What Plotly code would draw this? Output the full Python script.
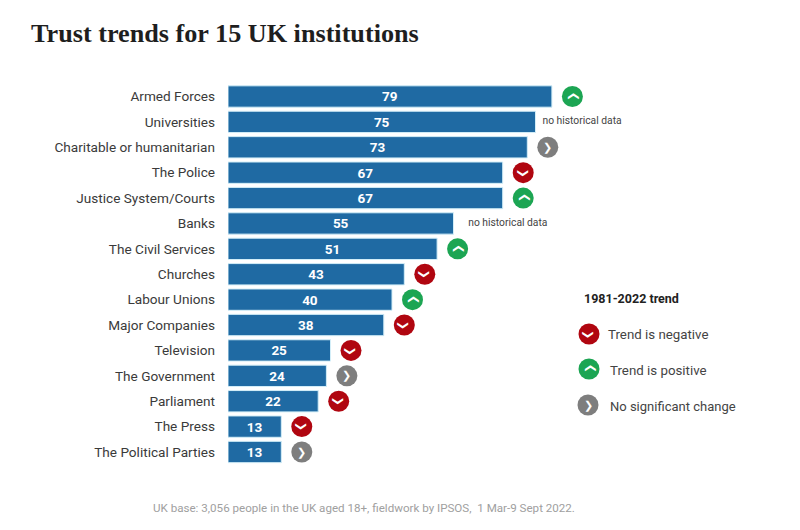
import plotly.graph_objects as go

categories = ["Armed Forces", "Universities", "Charitable or humanitarian", "The Police",
              "Justice System/Courts", "Banks", "The Civil Services", "Churches", "Labour Unions",
              "Major Companies", "Television", "The Government", "Parliament", "The Press",
              "The Political Parties"]
values = [79, 75, 73, 67, 67, 55, 51, 43, 40, 38, 25, 24, 22, 13, 13]
trends = ["up", None, "flat", "down", "up", None, "up", "down", "up", "down", "down", "flat", "down", "down", "flat"]

legend_title = "1981-2022 trend"
legend_labels = ["Trend is negative", "Trend is positive", "No significant change"]
legend_trends = ["down", "up", "flat"]
no_data_label = "no historical data"
title_text = "Trust trends for 15 UK institutions"
footer_text = "UK base: 3,056 people in the UK aged 18+, fieldwork by IPSOS,  1 Mar-9 Sept 2022."

PAGE_W, PAGE_H, BODY = 800, 530, 8
W, H = PAGE_W - BODY, PAGE_H - BODY
COL = {"up": "#1CA553", "down": "#B00610", "flat": "#7E7E7E"}
ANG = {"up": -90, "down": 90, "flat": 0}
PX_PER_UNIT = 4.1
X0, TOP, BOT = 228, 83.8, 464.7
GAP = 20.5 / PX_PER_UNIT
SANS = "Roboto, sans-serif"

fig = go.Figure()
fig.add_bar(y=categories, x=values, orientation="h", text=values, textposition="inside",
            insidetextanchor="middle", textangle=0, constraintext="none",
            marker=dict(color="#1F6AA3", line=dict(color="#D3EEF8", width=1)),
            textfont=dict(family=SANS, size=13.5, color="white", weight="bold"),
            hoverinfo="skip", width=0.84)

ann = []


def icons(xs, ys, kinds, xa="x", ya="y"):
    fig.add_scatter(x=xs, y=ys, mode="markers", xaxis=xa, yaxis=ya, hoverinfo="skip",
                    marker=dict(size=21, symbol="circle", color=[COL[k] for k in kinds]))
    for x, y, k in zip(xs, ys, kinds):
        ann.append(dict(text="\u276f", x=x, y=y, xref=xa, yref=ya, textangle=ANG[k], showarrow=False,
                        xanchor="center", yanchor="middle", borderpad=0,
                        font=dict(family="DejaVu Sans", size=11, color="white")))


pairs = [(v + GAP, c, t) for v, c, t in zip(values, categories, trends) if t]
icons([p[0] for p in pairs], [p[1] for p in pairs], [p[2] for p in pairs])

nd = [(v, c) for v, c, t in zip(values, categories, trends) if t is None]
nd_gap = [1.7, 3.6]
fig.add_scatter(x=[v + g for (v, _), g in zip(nd, nd_gap)], y=[c for _, c in nd], mode="text",
                text=[no_data_label] * len(nd), textposition="middle right", hoverinfo="skip",
                textfont=dict(family=SANS, size=10.3, color="#444"))

# legend, on an axis pair measured in page pixels
icons([589, 589, 588], [334, 369, 405], legend_trends, "x2", "y2")

texts = [
    dict(text=legend_title, x=583, y=298, xanchor="left", font=dict(family=SANS, size=12.5, color="#222", weight="bold")),
    dict(text=legend_labels[0], x=607, y=334, xanchor="left", font=dict(family=SANS, size=13.3, color="#444")),
    dict(text=legend_labels[1], x=609, y=370, xanchor="left", font=dict(family=SANS, size=13.3, color="#444")),
    dict(text=legend_labels[2], x=609, y=406, xanchor="left", font=dict(family=SANS, size=13, color="#444")),
    dict(text=footer_text, x=363.5, y=508, xanchor="center", font=dict(family=SANS, size=11.6, color="#A0A0A0")),
    dict(text=title_text, x=30, y=33, xanchor="left",
         font=dict(family="Liberation Serif, serif", size=26.2, color="#1E1E1E", weight="bold")),
]
for a in texts:
    a.update(xref="x2", yref="y2", showarrow=False, yanchor="middle", borderpad=0)
ann += texts

fig.update_layout(
    width=W, height=H, margin=dict(l=0, r=0, t=0, b=0), showlegend=False,
    paper_bgcolor="white", plot_bgcolor="rgba(0,0,0,0)", annotations=ann,
    xaxis=dict(domain=[(X0 - BODY) / W, 1], range=[0, (PAGE_W - X0) / PX_PER_UNIT], visible=False),
    yaxis=dict(domain=[1 - (BOT - BODY) / H, 1 - (TOP - BODY) / H], range=[14.5, -0.5], showgrid=False,
               zeroline=False, showline=False, ticks="", ticklabelstandoff=12,
               categoryorder="array", categoryarray=categories,
               tickfont=dict(family=SANS, size=13.6, color="#3A3A3A")),
    xaxis2=dict(domain=[0, 1], range=[BODY, PAGE_W], visible=False, anchor="y2"),
    yaxis2=dict(domain=[0, 1], range=[PAGE_H, BODY], visible=False, anchor="x2"),
)
fig.write_html("out.html")
